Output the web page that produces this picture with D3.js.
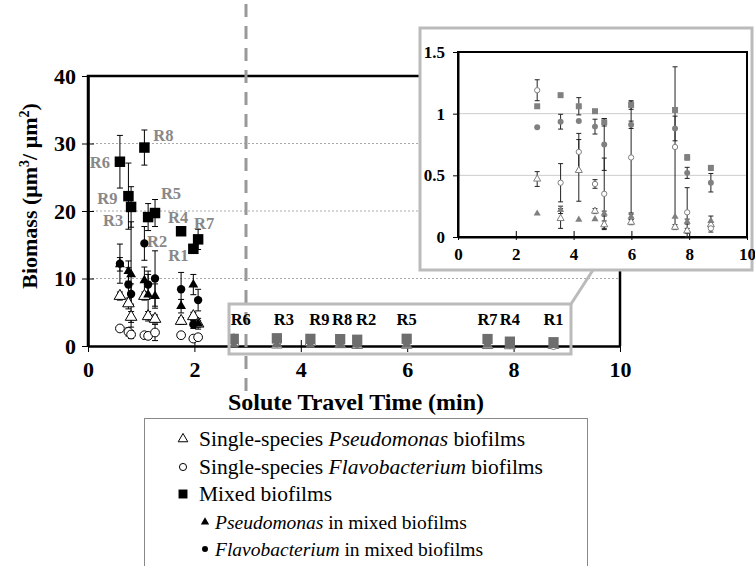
<!DOCTYPE html>
<html>
<head>
<meta charset="utf-8">
<script src="https://cdn.jsdelivr.net/npm/d3@7"></script>
<style>
  body { margin: 0; background: #fff; }
  svg text { font-family: "Liberation Serif", "Times New Roman", serif; }
  .tick text { font-weight: bold; }
</style>
</head>
<body>
<div id="chart"></div>
<script>
// short travel times (left cluster)
const reactorsA = ["R6", "R9", "R3", "R8", "R2", "R5", "R4", "R1", "R7"];
const timeA = [0.60, 0.76, 0.81, 1.06, 1.13, 1.26, 1.75, 1.98, 2.07];
const mixedA = [27.3, 22.2, 20.6, 29.4, 19.1, 19.7, 17.0, 14.4, 15.8];
const mixedAErr = [3.9, 4.9, 3.0, 2.6, 2.0, 2.0, 0.4, 0.6, 1.5];
const pseudoMixA = [12.1, 11.1, 10.6, 9.7, 7.6, 7.4, 5.9, 9.1, 3.3];
const pseudoMixAErr = [1.0, 1.5, 7.8, 2.0, 3.0, 1.8, 1.0, 1.5, 0.8];
const flavoMixA = [12.2, 9.1, 7.7, 15.2, 9.1, 10.0, 8.4, 3.2, 6.8];
const flavoMixAErr = [2.9, 2.5, 1.5, 2.5, 2.0, 4.1, 2.5, 0.6, 1.6];
const pseudoSingleA = [7.4, 6.3, 4.3, 7.4, 4.4, 4.0, 3.7, 4.4, 3.3];
const pseudoSingleAErr = [0.6, 0.8, 0.8, 0.6, 0.7, 0.6, 0.5, 0.6, 0.5];
const flavoSingleA = [2.6, 2.1, 1.7, 1.6, 1.5, 2.0, 1.6, 1.1, 1.3];
const flavoSingleAErr = [0.4, 0.6, 0.6, 0.4, 0.4, 1.2, 0.4, 0.3, 0.3];

// long travel times (right, shown in the inset)
const reactorsB = ["R6", "R3", "R9", "R8", "R2", "R5", "R7", "R4", "R1"];
const timeB = [2.74, 3.55, 4.18, 4.74, 5.06, 5.99, 7.51, 7.93, 8.75];
const mixedB = [1.06, 1.15, 1.06, 1.02, 0.93, 1.07, 1.03, 0.645, 0.56];
const mixedBErr = [0, 0, 0.07, 0, 0.03, 0.035, 0, 0.02, 0.02];
const pseudoMixB = [0.19, 0.22, 0.14, 0.145, 0.19, 0.165, 0.165, 0.125, 0.13];
const pseudoMixBErr = [0, 0.03, 0, 0, 0.02, 0.02, 0, 0.02, 0.04];
const flavoMixB = [0.89, 0.935, 0.94, 0.895, 0.75, 0.91, 0.88, 0.52, 0.44];
const flavoMixBErr = [0, 0.06, 0, 0.06, 0.21, 0.03, 0.1, 0.045, 0.075];
const pseudoSingleB = [0.47, 0.15, 0.54, 0.21, 0.10, 0.12, 0.08, 0.05, 0.10];
const pseudoSingleBErr = [0.06, 0.08, 0.25, 0.02, 0.03, 0.02, 0.02, 0.02, 0.02];
const flavoSingleB = [1.19, 0.44, 0.69, 0.43, 0.35, 0.645, 0.73, 0.20, 0.07];
const flavoSingleBErr = [0.085, 0.155, 0.15, 0.035, 0.29, 0.45, 0.65, 0.2, 0.03];

const mainTicksX = [0, 2, 4, 6, 8, 10];
const mainTicksY = [0, 10, 20, 30, 40];
const insetTicksY = [0, 0.5, 1, 1.5];

const width = 755, height = 566;
const svg = d3.select("#chart").append("svg")
  .attr("width", width).attr("height", height);

const x = d3.scaleLinear([0, 10], [88, 620]);
const y = d3.scaleLinear([0, 40], [346, 76]);
const xi = d3.scaleLinear([0, 10], [458, 747]);
const yi = d3.scaleLinear([0, 1.5], [237, 52]);

// gridlines
svg.append("g").selectAll("line")
  .data([10, 20, 30]).join("line")
  .attr("x1", x(0)).attr("x2", x(10))
  .attr("y1", d => y(d)).attr("y2", d => y(d))
  .attr("stroke", "#aaa").attr("stroke-dasharray", "2,2");

// frame
svg.append("path")
  .attr("d", `M${x(0)},${y(0)}V${y(40)}H${x(10)}V${y(0)}`)
  .attr("fill", "none").attr("stroke", "#000").attr("stroke-width", 2.5);

const tickFont = size => g => {
  g.attr("font-weight", "bold").attr("font-family", "Liberation Serif");
  g.selectAll("text")
    .attr("fill", "#000")
    .attr("font-weight", "bold")
    .style("font-size", size + "px")
    .style("font-weight", "700");
};

svg.append("g")
  .attr("transform", `translate(0,${y(0)})`)
  .call(d3.axisBottom(x).tickValues(mainTicksX).tickSizeInner(6).tickSizeOuter(0).tickPadding(9))
  .call(g => g.select(".domain").attr("stroke-width", 2.5))
  .call(g => g.selectAll(".tick line").attr("y1", -6).attr("stroke-width", 1))
  .call(tickFont(22));

svg.append("g")
  .attr("transform", `translate(${x(0)},0)`)
  .call(d3.axisLeft(y).tickValues(mainTicksY).tickSizeInner(6).tickSizeOuter(0).tickPadding(6))
  .call(g => g.select(".domain").attr("stroke-width", 2.5))
  .call(g => g.selectAll(".tick line").attr("x1", 6).attr("stroke-width", 1))
  .call(tickFont(22));

// axis titles
const yTitle = svg.append("text")
  .attr("transform", "translate(37,196) rotate(-90)")
  .attr("text-anchor", "middle")
  .attr("font-size", 22).attr("font-weight", "bold");
yTitle.append("tspan").text("Biomass (μm");
yTitle.append("tspan").text("3").attr("font-size", 14).attr("dy", -8);
yTitle.append("tspan").text("/ μm").attr("dy", 8);
yTitle.append("tspan").text("2").attr("font-size", 14).attr("dy", -8);
yTitle.append("tspan").text(")").attr("dy", 8);

svg.append("text")
  .attr("x", 356).attr("y", 410)
  .attr("text-anchor", "middle")
  .attr("font-size", 24).attr("font-weight", "bold")
  .text("Solute Travel Time (min)");

// dashed separator
svg.append("line")
  .attr("x1", 246).attr("x2", 246).attr("y1", 4).attr("y2", 394)
  .attr("stroke", "#999").attr("stroke-width", 3).attr("stroke-dasharray", "13,9");

// helpers
function drawErr(g, xs, ys, t, vals, errs, cap, color) {
  const d = t.map((tt, i) => ({ t: tt, v: vals[i], e: errs[i] })).filter(d => d.e > 0);
  g.append("g").selectAll("path").data(d).join("path")
    .attr("d", d => {
      const cx = xs(d.t), y1 = ys(d.v + d.e), y2 = ys(Math.max(0, d.v - d.e));
      return `M${cx},${y1}V${y2}M${cx - cap},${y1}H${cx + cap}M${cx - cap},${y2}H${cx + cap}`;
    })
    .attr("fill", "none").attr("stroke", color).attr("stroke-width", 1);
}

function drawPts(g, xs, ys, t, vals, type, size, color, open) {
  const sym = d3.symbol().type(type).size(size);
  g.append("g").selectAll("path").data(t.map((tt, i) => [tt, vals[i]])).join("path")
    .attr("transform", d => `translate(${xs(d[0])},${ys(d[1])})`)
    .attr("d", sym)
    .attr("fill", open ? "#fff" : color)
    .attr("stroke", open ? color : "none")
    .attr("stroke-width", 1);
}

function drawSet(g, xs, ys, t, sets, sizes, color, errColor, cap) {
  sets.forEach(s => drawErr(g, xs, ys, t, s.vals, s.errs, cap, errColor));
  sets.forEach((s, k) => drawPts(g, xs, ys, t, s.vals, s.type, sizes[k], color, s.open));
}

const setsA = [
  { vals: pseudoSingleA, errs: pseudoSingleAErr, type: d3.symbolTriangle, open: true },
  { vals: flavoSingleA, errs: flavoSingleAErr, type: d3.symbolCircle, open: true },
  { vals: pseudoMixA, errs: pseudoMixAErr, type: d3.symbolTriangle, open: false },
  { vals: flavoMixA, errs: flavoMixAErr, type: d3.symbolCircle, open: false },
  { vals: mixedA, errs: mixedAErr, type: d3.symbolSquare, open: false }
];
const setsB = [
  { vals: pseudoSingleB, errs: pseudoSingleBErr, type: d3.symbolTriangle, open: true },
  { vals: flavoSingleB, errs: flavoSingleBErr, type: d3.symbolCircle, open: true },
  { vals: pseudoMixB, errs: pseudoMixBErr, type: d3.symbolTriangle, open: false },
  { vals: flavoMixB, errs: flavoMixBErr, type: d3.symbolCircle, open: false },
  { vals: mixedB, errs: mixedBErr, type: d3.symbolSquare, open: false }
];

// main plot data
drawSet(svg.append("g"), x, y, timeA, setsA, [58, 60, 42, 55, 110], "#000", "#000", 3);
drawSet(svg.append("g"), x, y, timeB, setsB, [50, 50, 40, 50, 105], "#6e6e6e", "#333", 3);

// left cluster labels
const labelOffA = [[-20, 1], [-21, 2], [-18, 14], [19, -12], [9, 24], [16, -20], [-3, -14], [-15, 7], [6, -16]];
svg.append("g").selectAll("text").data(reactorsA).join("text")
  .attr("x", (d, i) => x(timeA[i]) + labelOffA[i][0])
  .attr("y", (d, i) => y(mixedA[i]) + labelOffA[i][1])
  .attr("text-anchor", "middle").attr("dominant-baseline", "central")
  .attr("font-size", 16.5).attr("font-weight", "bold").attr("fill", "#888")
  .text(d => d);

// zoom box around long-time data
svg.append("rect")
  .attr("x", 229).attr("y", 304).attr("width", 342).attr("height", 50)
  .attr("fill", "none").attr("stroke", "#bbb").attr("stroke-width", 3);
svg.append("line")
  .attr("x1", 571).attr("y1", 304).attr("x2", 593).attr("y2", 270)
  .attr("stroke", "#bbb").attr("stroke-width", 3);

const labelOffB = [7, 7, 9, 2, 9, 0, 0, 0, 0];
svg.append("g").selectAll("text").data(reactorsB).join("text")
  .attr("x", (d, i) => x(timeB[i]) + labelOffB[i])
  .attr("y", 325)
  .attr("text-anchor", "middle")
  .attr("font-size", 16.5).attr("font-weight", "bold").attr("fill", "#000")
  .text(d => d);

// inset
const inset = svg.append("g");
inset.append("rect")
  .attr("x", 420).attr("y", 28).attr("width", 332).attr("height", 242)
  .attr("fill", "#fff").attr("stroke", "#bbb").attr("stroke-width", 3);

inset.append("g").selectAll("line")
  .data([0.5, 1]).join("line")
  .attr("x1", xi(0)).attr("x2", xi(10))
  .attr("y1", d => yi(d)).attr("y2", d => yi(d))
  .attr("stroke", "#ccc");

inset.append("rect")
  .attr("x", xi(0)).attr("y", yi(1.5))
  .attr("width", xi(10) - xi(0)).attr("height", yi(0) - yi(1.5))
  .attr("fill", "none").attr("stroke", "#000").attr("stroke-width", 2);

inset.append("g")
  .attr("transform", `translate(0,${yi(0)})`)
  .call(d3.axisBottom(xi).tickValues(mainTicksX).tickSizeInner(3).tickSizeOuter(0).tickPadding(8))
  .call(g => g.select(".domain").attr("stroke-width", 2))
  .call(g => g.selectAll(".tick line").attr("y1", -6))
  .call(tickFont(17));

inset.append("g")
  .attr("transform", `translate(${xi(0)},0)`)
  .call(d3.axisLeft(yi).tickValues(insetTicksY).tickFormat(d3.format("")).tickSizeInner(5).tickSizeOuter(0).tickPadding(8))
  .call(g => g.select(".domain").attr("stroke-width", 2))
  .call(tickFont(17));

drawSet(inset.append("g"), xi, yi, timeB, setsB, [22, 22, 22, 28, 36], "#808080", "#222", 2.5);

// legend
const legend = svg.append("g");
legend.append("rect")
  .attr("x", 144.5).attr("y", 418.5).attr("width", 443).attr("height", 170)
  .attr("fill", "#fff").attr("stroke", "#888");

const legendRows = [
  { y: 439, mx: 183, tx: 199, fs: 21.5, type: d3.symbolTriangle, size: 40, open: true, parts: [["Single-species ", false], ["Pseudomonas", true], [" biofilms", false]] },
  { y: 467, mx: 183, tx: 199, fs: 21.5, type: d3.symbolCircle, size: 40, open: true, parts: [["Single-species ", false], ["Flavobacterium", true], [" biofilms", false]] },
  { y: 494, mx: 183, tx: 199, fs: 21.5, type: d3.symbolSquare, size: 80, open: false, parts: [["Mixed biofilms", false]] },
  { y: 522, mx: 205, tx: 215, fs: 19.5, type: d3.symbolTriangle, size: 30, open: false, parts: [["Pseudomonas", true], [" in mixed biofilms", false]] },
  { y: 549, mx: 205, tx: 215, fs: 19.5, type: d3.symbolCircle, size: 28, open: false, parts: [["Flavobacterium", true], [" in mixed biofilms", false]] }
];

legendRows.forEach(r => {
  legend.append("path")
    .attr("transform", `translate(${r.mx},${r.y})`)
    .attr("d", d3.symbol().type(r.type).size(r.size))
    .attr("fill", r.open ? "#fff" : "#000")
    .attr("stroke", r.open ? "#000" : "none");
  const t = legend.append("text")
    .attr("x", r.tx).attr("y", r.y)
    .attr("dominant-baseline", "central")
    .attr("font-size", r.fs);
  r.parts.forEach(p => t.append("tspan").text(p[0]).attr("font-style", p[1] ? "italic" : "normal"));
});
</script>
</body>
</html>
